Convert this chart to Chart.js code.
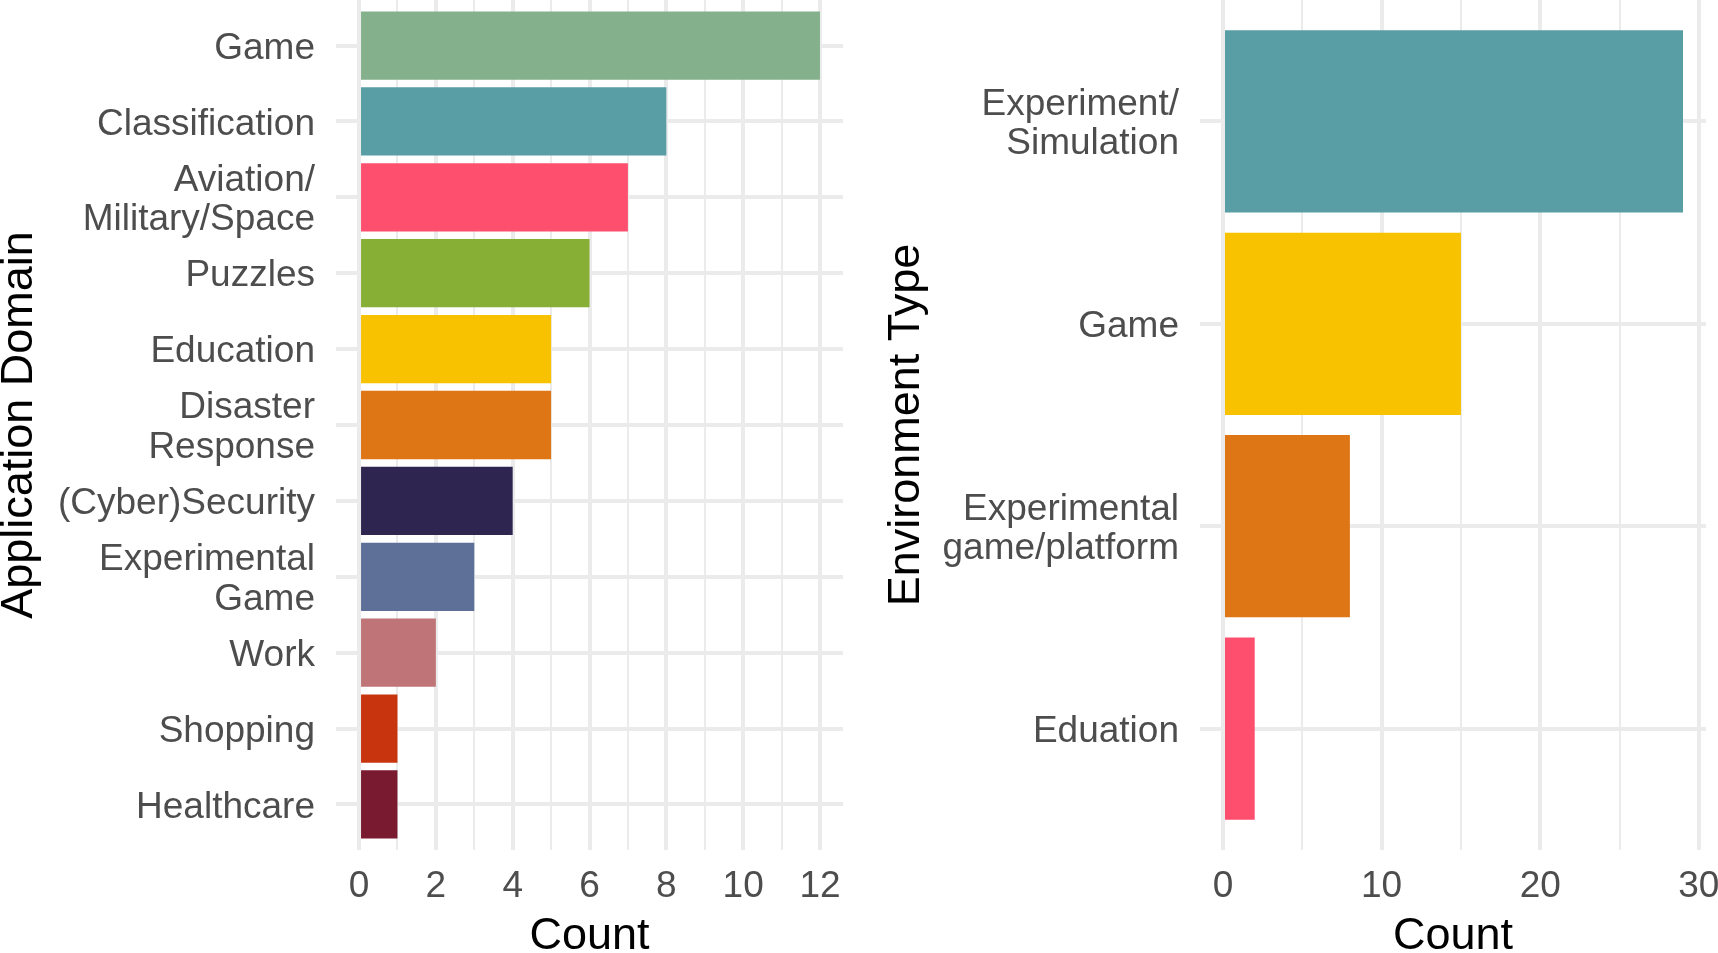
<!DOCTYPE html>
<html>
<head>
<meta charset="utf-8">
<script src="https://cdn.jsdelivr.net/npm/chart.js@4/dist/chart.umd.min.js"></script>
<style>
  html, body { margin: 0; padding: 0; background: #ffffff; }
  #wrap { position: relative; width: 1718px; height: 953px; overflow: hidden; }
  .panel { position: absolute; top: 0; height: 953px; }
  #p1 { left: 0; width: 860px; }
  #p2 { left: 860px; width: 858px; }
</style>
</head>
<body>
<div id="wrap">
  <div class="panel" id="p1"><canvas id="c1"></canvas></div>
  <div class="panel" id="p2"><canvas id="c2"></canvas></div>
</div>
<script>
// ---- Data: Application Domain ----
const domainLabels = [
  'Game', 'Classification', ['Aviation/', 'Military/Space'], 'Puzzles', 'Education',
  ['Disaster', 'Response'], '(Cyber)Security', ['Experimental', 'Game'], 'Work', 'Shopping', 'Healthcare'
];
const domainCounts = [12, 8, 7, 6, 5, 5, 4, 3, 2, 1, 1];
const domainColors = ['#84B18C', '#589EA4', '#FF4F6F', '#87AE35', '#F8C200', '#DF7615',
                      '#2E2650', '#5E7097', '#BF7578', '#C8340E', '#7A1A30'];
const domainMajorTicks = [0, 2, 4, 6, 8, 10, 12];
const domainMinorTicks = [1, 3, 5, 7, 9, 11];

// ---- Data: Environment Type ----
const envLabels = [['Experiment/', 'Simulation'], 'Game', ['Experimental', 'game/platform'], 'Eduation'];
const envCounts = [29, 15, 8, 2];
const envColors = ['#589EA4', '#F8C200', '#DF7615', '#FF4F6F'];
const envMajorTicks = [0, 10, 20, 30];
const envMinorTicks = [5, 15, 25];

const GRID = '#EBEBEB';
const TICK_COLOR = '#4D4D4D';
const FONT = "'Liberation Sans', Arial, Helvetica, sans-serif";

function makeChart(canvasId, labels, counts, colors, majors, minors, yTitle, cfg) {
  const n = labels.length;
  const maxVal = Math.max(...counts);
  const expand = maxVal * 0.05;
  const allTicks = majors.concat(minors).sort((a, b) => a - b);
  return new Chart(document.getElementById(canvasId), {
    type: 'bar',
    data: {
      datasets: [{
        data: counts.map((v, i) => ({ x: v, y: i })),
        backgroundColor: colors,
        borderWidth: 0,
        categoryPercentage: 0.9,
        barPercentage: 1.0
      }]
    },
    options: {
      indexAxis: 'y',
      responsive: true,
      maintainAspectRatio: false,
      animation: false,
      layout: { padding: { top: 0, bottom: 0, left: 0, right: cfg.rightPad } },
      plugins: { legend: { display: false }, tooltip: { enabled: false } },
      scales: {
        x: {
          type: 'linear',
          position: 'bottom',
          offset: false,
          min: -expand,
          max: maxVal + expand,
          border: { display: false },
          grid: {
            color: GRID,
            drawTicks: false,
            offset: false,
            lineWidth: (ctx) => (ctx.tick && majors.includes(ctx.tick.value)) ? 4 : 2
          },
          ticks: {
            autoSkip: false,
            maxRotation: 0,
            padding: 15,
            color: TICK_COLOR,
            font: { family: FONT, size: 37, lineHeight: 1.2 },
            callback: (v) => majors.includes(v) ? String(v) : ''
          },
          afterBuildTicks: (axis) => { axis.ticks = allTicks.map(v => ({ value: v })); },
          afterFit: (scale) => {
            scale.height = 103;
            scale.paddingLeft = 0; scale.paddingRight = 0;
          },
          title: {
            display: true,
            text: 'Count',
            color: '#000000',
            font: { family: FONT, size: 45, lineHeight: '32px' },
            padding: { top: 0, bottom: 0 }
          }
        },
        y: {
          type: 'linear',
          reverse: true,
          offset: false,
          min: -0.6,
          max: n - 0.4,
          border: { display: false },
          grid: { color: GRID, drawTicks: false, offset: false, lineWidth: 4 },
          ticks: {
            autoSkip: false,
            padding: cfg.yPad,
            labelOffset: 3,
            color: TICK_COLOR,
            font: { family: FONT, size: 37, lineHeight: 1.07 },
            callback: (v) => labels[v]
          },
          afterBuildTicks: (axis) => { axis.ticks = labels.map((_, i) => ({ value: i })); },
          afterFit: (scale) => {
            scale.width = cfg.yWidth;
            scale.paddingTop = 0; scale.paddingBottom = 0;
          },
          title: {
            display: true,
            text: yTitle,
            color: '#000000',
            font: { family: FONT, size: 45, lineHeight: '40px' },
            padding: { top: cfg.titlePad, bottom: 0 }
          }
        }
      }
    }
  });
}

makeChart('c1', domainLabels, domainCounts, domainColors, domainMajorTicks, domainMinorTicks,
  'Application Domain', { yWidth: 336, yPad: 21, rightPad: 17, titlePad: 0 });
makeChart('c2', envLabels, envCounts, envColors, envMajorTicks, envMinorTicks,
  'Environment Type', { yWidth: 340, yPad: 21, rightPad: 12, titlePad: 27 });
</script>
</body>
</html>
